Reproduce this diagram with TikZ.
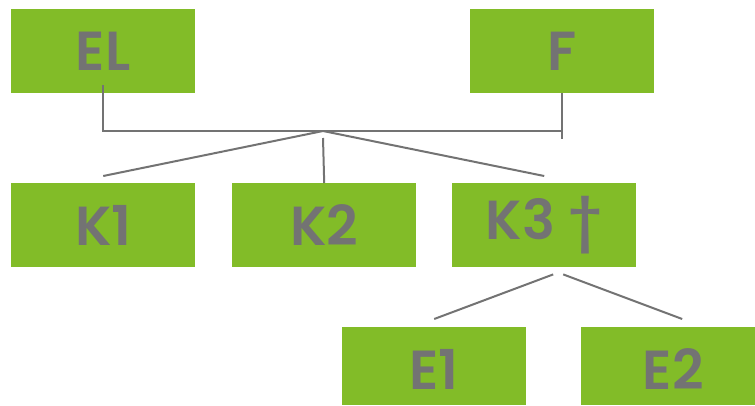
\documentclass[tikz,border=0pt]{standalone}
\usepackage{fontspec}
\setmainfont{Poppins}[BoldFont={* SemiBold}]
\usetikzlibrary{calc}
\definecolor{boxgreen}{RGB}{130,188,40}
\definecolor{txtgray}{RGB}{115,115,115}
\tikzset{
  box/.style={rectangle, fill=boxgreen, minimum width=184pt, minimum height=84pt, inner sep=0pt, anchor=north west, text=txtgray, font=\fontsize{55}{60}\selectfont\bfseries},
  cutbox/.style={box, minimum height=78pt, text depth=0pt, text height=40pt, yshift=0pt},
  conn/.style={draw=txtgray, line width=2pt}
}
\begin{document}
\begin{tikzpicture}[x=1pt,y=-1pt]
\useasboundingbox (0,0) rectangle (755,405);
\node[box] (EL) at (11,9) {EL};
\node[box] (F) at (470,9) {F};
\node[box] (K1) at (11,183) {K1};
\node[box] (K2) at (232,183) {K2};
\node[box] (K3) at (452,183) {K3 †};
\node[cutbox] (E1) at (342,327) {\raisebox{-3pt}{E1}};
\node[cutbox, minimum width=174pt] (E2) at (581,327) {\hspace*{10pt}\raisebox{-3pt}{E2}};
\coordinate (J) at (323,131);
\coordinate (ELs) at ($(EL.south)+(0,-8)$);
\coordinate (Fx) at (F.south |- J);
\coordinate (Fend) at ($(F.south)+(0,46)$);
\coordinate (K1t) at ($(K1.north)+(0,-7)$);
\coordinate (K2s) at ($(J)+(0,7)$);
\coordinate (K3t) at ($(K3.north)+(0,-7)$);
\coordinate (K3a) at ($(K3.south)+(9,7)$);
\coordinate (K3b) at ($(K3.south)+(19,7)$);
\coordinate (E1t) at ($(E1.north)+(0,-8)$);
\coordinate (E2t) at ($(E2.north)+(14,-8)$);
\draw[conn] (ELs) |- (Fx);
\draw[conn] (F.south) -- (Fend);
\draw[conn] (J) -- (K1t);
\draw[conn] (K2s) -- (K2.north);
\draw[conn] (J) -- (K3t);
\draw[conn] (K3a) -- (E1t);
\draw[conn] (K3b) -- (E2t);
\end{tikzpicture}
\end{document}
